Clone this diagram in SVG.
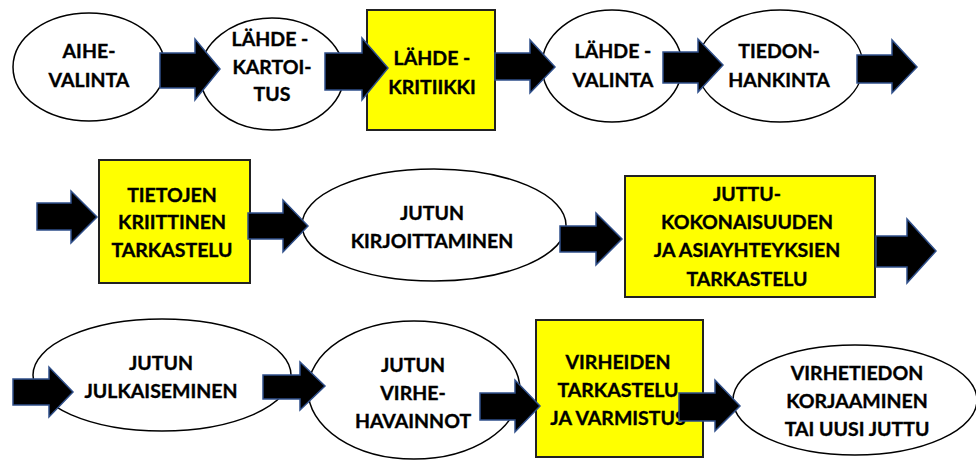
<svg xmlns="http://www.w3.org/2000/svg" width="976" height="460" viewBox="0 0 976 460">
<style>
.el{fill:#fff;stroke:#000;stroke-width:1.5}
.bx{fill:#ffff00;stroke:#222;stroke-width:2}
.t{font-family:Lato,"Open Sans",sans-serif;font-weight:bold;font-size:19.5px;text-anchor:middle;fill:#000;stroke:#000;stroke-width:0.35}
.ar{fill:#000;stroke:#2f4f8a;stroke-width:1.5;stroke-linejoin:miter}
</style>
<rect width="976" height="460" fill="#fff"/>
<g id="n1"><ellipse class="el" cx="89" cy="67" rx="76" ry="54"/><text class="t" x="89" y="58">AIHE-</text><text class="t" x="89" y="87">VALINTA</text></g>
<g id="n2"><ellipse class="el" cx="272" cy="74" rx="72" ry="56"/><text class="t" x="270" y="46">LÄHDE -</text><text class="t" x="272" y="74">KARTOI-</text><text class="t" x="272" y="101">TUS</text></g>
<g id="n3"><rect class="bx" x="367" y="10" width="128" height="120"/><text class="t" x="432" y="65">LÄHDE -</text><text class="t" x="432" y="94">KRITIIKKI</text></g>
<g id="n4"><ellipse class="el" cx="612" cy="66" rx="70" ry="56"/><text class="t" x="613" y="58">LÄHDE -</text><text class="t" x="613" y="87">VALINTA</text></g>
<g id="n5"><ellipse class="el" cx="780" cy="66" rx="83" ry="56"/><text class="t" x="779" y="58">TIEDON-</text><text class="t" x="779" y="87">HANKINTA</text></g>
<g id="n6"><rect class="bx" x="99" y="160" width="151" height="123"/><text class="t" x="172" y="202">TIETOJEN</text><text class="t" x="172" y="229">KRIITTINEN</text><text class="t" x="172" y="257">TARKASTELU</text></g>
<g id="n7"><ellipse class="el" cx="434" cy="225" rx="132" ry="56"/><text class="t" x="432" y="220">JUTUN</text><text class="t" x="432" y="248">KIRJOITTAMINEN</text></g>
<g id="n8"><rect class="bx" x="625" y="176" width="250" height="121"/><text class="t" x="747" y="201">JUTTU-</text><text class="t" x="747" y="229">KOKONAISUUDEN</text><text class="t" x="747" y="257">JA ASIAYHTEYKSIEN</text><text class="t" x="747" y="286">TARKASTELU</text></g>
<g id="n9"><ellipse class="el" cx="162" cy="375" rx="129" ry="56"/><text class="t" x="161" y="370">JUTUN</text><text class="t" x="161" y="398">JULKAISEMINEN</text></g>
<g id="n10"><ellipse class="el" cx="414" cy="390" rx="106" ry="69"/><text class="t" x="413" y="372">JUTUN</text><text class="t" x="413" y="400">VIRHE-</text><text class="t" x="413" y="428">HAVAINNOT</text></g>
<g id="n11"><rect class="bx" x="536" y="320" width="167" height="137"/><text class="t" x="618" y="369">VIRHEIDEN</text><text class="t" x="618" y="397">TARKASTELU</text><text class="t" x="618" y="425">JA VARMISTUS</text></g>
<g id="n12"><ellipse class="el" cx="855" cy="400" rx="122" ry="55"/><text class="t" x="857" y="380">VIRHETIEDON</text><text class="t" x="857" y="408">KORJAAMINEN</text><text class="t" x="857" y="436">TAI UUSI JUTTU</text></g>
<g id="connectors">
<polygon class="ar" points="160,53 195,53 195,39 220,69 195,100 195,88 160,88"/>
<polygon class="ar" points="325,53 362,53 362,38 388,68 362,100 362,90 325,90"/>
<polygon class="ar" points="495,53 530,53 530,40 555,67 530,93 530,80 495,80"/>
<polygon class="ar" points="663,52 698,52 698,39 723,65 698,92 698,83 663,83"/>
<polygon class="ar" points="857,55 892,55 892,40 917,67 892,93 892,83 857,83"/>
<polygon class="ar" points="37,203 71,203 71,191 97,217 71,243 71,230 37,230"/>
<polygon class="ar" points="248,213 283,213 283,200 308,226 283,252 283,239 248,239"/>
<polygon class="ar" points="560,226 596,226 596,213 622,239 596,265 596,252 560,252"/>
<polygon class="ar" points="876,236 907,236 907,219 936,251 907,283 907,267 876,267"/>
<polygon class="ar" points="13,379 49,379 49,367 73,392 49,417 49,405 13,405"/>
<polygon class="ar" points="263,375 300,375 300,362 325,386 300,410 300,399 263,399"/>
<polygon class="ar" points="480,393 515,393 515,380 540,406 515,432 515,420 480,420"/>
<polygon class="ar" points="679,393 715,393 715,380 740,406 715,431 715,421 679,421"/>
</g>
</svg>
